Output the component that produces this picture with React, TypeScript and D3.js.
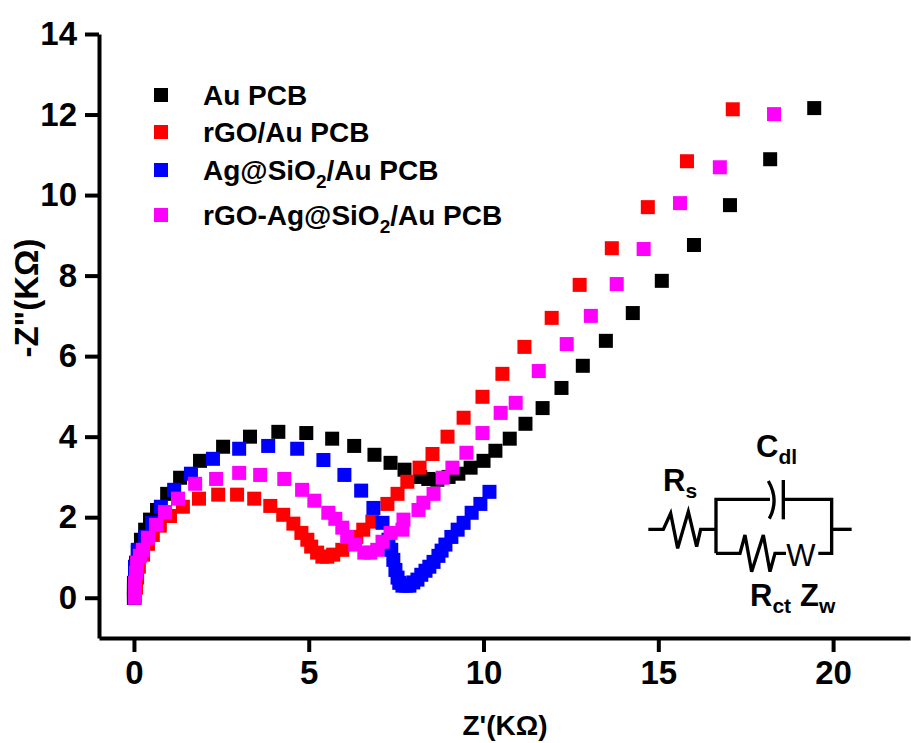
import React from 'react'
import * as d3 from 'd3'

const svgWidth = 911
const svgHeight = 743

const xTicks = [0, 5, 10, 15, 20]
const yTicks = [0, 2, 4, 6, 8, 10, 12, 14]

const auPcb = [
  [0, 0], [0, 0.07], [0, 0.2], [0, 0.37], [0.03, 0.62], [0.06, 0.87], [0.11, 1.14], [0.2, 1.44],
  [0.32, 1.69], [0.46, 1.94], [0.66, 2.18], [0.95, 2.58], [1.32, 2.98], [1.89, 3.4], [2.55, 3.75],
  [3.32, 4.0], [4.13, 4.12], [4.93, 4.09], [5.67, 3.95], [6.3, 3.77], [6.88, 3.55], [7.34, 3.35],
  [7.74, 3.18], [8.19, 3.0], [8.42, 2.95], [8.68, 2.93], [9.0, 3.0], [9.28, 3.08], [9.63, 3.23],
  [10.0, 3.4], [10.34, 3.65], [10.75, 3.95], [11.2, 4.32], [11.69, 4.71], [12.23, 5.21], [12.84, 5.76],
  [13.5, 6.38], [14.27, 7.07], [15.1, 7.87], [16.02, 8.76], [17.05, 9.75], [18.2, 10.89], [19.46, 12.16],
]

const rgoAuPcb = [
  [0, 0], [0.03, 0.1], [0.06, 0.25], [0.09, 0.5], [0.14, 0.77], [0.26, 1.07], [0.4, 1.34], [0.54, 1.56],
  [0.74, 1.79], [1.03, 2.03], [1.4, 2.26], [1.86, 2.46], [2.41, 2.56], [2.95, 2.56], [3.44, 2.46],
  [3.9, 2.28], [4.27, 2.06], [4.56, 1.84], [4.79, 1.61], [4.96, 1.44], [5.07, 1.27], [5.24, 1.12],
  [5.39, 1.02], [5.53, 1.02], [5.7, 1.07], [5.96, 1.19], [6.19, 1.34], [6.36, 1.51], [6.56, 1.69],
  [6.82, 1.89], [7.25, 2.33], [7.54, 2.58], [7.82, 2.88], [8.17, 3.23], [8.54, 3.57], [8.97, 4.0],
  [9.43, 4.47], [9.97, 4.99], [10.54, 5.56], [11.17, 6.23], [11.95, 6.95], [12.75, 7.77], [13.67, 8.68],
  [14.7, 9.7], [15.82, 10.84], [17.13, 12.13],
]

const agSiO2AuPcb = [
  [0, 0], [0, 0.2], [0.03, 0.57], [0.03, 0.77], [0.11, 1.19], [0.32, 1.51], [0.52, 1.86], [0.77, 2.26],
  [1.15, 2.68], [1.63, 3.08], [2.26, 3.45], [3.01, 3.7], [3.84, 3.77], [4.67, 3.7], [5.42, 3.42],
  [6.02, 3.05], [6.5, 2.66], [6.85, 2.23], [7.11, 1.86], [7.28, 1.44], [7.36, 1.19], [7.42, 0.94],
  [7.48, 0.69], [7.54, 0.5], [7.59, 0.37], [7.68, 0.3], [7.79, 0.3], [7.88, 0.3], [7.99, 0.38],
  [8.11, 0.45], [8.22, 0.57], [8.34, 0.67], [8.45, 0.77], [8.57, 0.89], [8.71, 1.04], [8.8, 1.17],
  [8.91, 1.32], [9.08, 1.51], [9.26, 1.69], [9.43, 1.86], [9.66, 2.11], [9.91, 2.33], [10.17, 2.63],
]

const rgoAgSiO2AuPcb = [
  [0.03, 0], [0.03, 0.2], [0.03, 0.37], [0.06, 0.62], [0.09, 0.87], [0.17, 1.04], [0.26, 1.19], [0.4, 1.49],
  [0.63, 1.81], [0.89, 2.13], [1.26, 2.46], [1.75, 2.83], [2.35, 2.95], [3.01, 3.1], [3.61, 3.05],
  [4.3, 2.95], [4.81, 2.68], [5.16, 2.41], [5.56, 2.11], [5.76, 1.96], [5.96, 1.74], [6.1, 1.51],
  [6.33, 1.32], [6.59, 1.12], [6.76, 1.12], [6.96, 1.19], [7.11, 1.39], [7.34, 1.61], [7.68, 1.69],
  [7.71, 1.94], [8.14, 2.18], [8.28, 2.36], [8.57, 2.58], [8.83, 2.98], [9.11, 3.23], [9.51, 3.6],
  [9.97, 4.09], [10.49, 4.59], [10.92, 4.84], [11.58, 5.63], [12.38, 6.3], [13.07, 7.0], [13.81, 7.79],
  [14.58, 8.66], [15.62, 9.8], [16.76, 10.69], [18.31, 12.01],
]

const seriesList = [
  { name: ['Au PCB'], color: '#000000', points: auPcb, legendY: 95 },
  { name: ['rGO/Au PCB'], color: '#ff0000', points: rgoAuPcb, legendY: 132 },
  { name: ['Ag@SiO', '2', '/Au PCB'], color: '#0000ff', points: agSiO2AuPcb, legendY: 170 },
  { name: ['rGO-Ag@SiO', '2', '/Au PCB'], color: '#ff00ff', points: rgoAgSiO2AuPcb, legendY: 215 },
]

const FONT = '"Liberation Sans", Arial, sans-serif'

// circuit outline, in crop coords of the inset (3x)
const circuitPaths = [
  'M55 298H100L122 250L143 355L175 245L200 350L212 298H258',
  'M258 370V208H420',
  'M465 208H605V370H565',
  'M258 370H330L345 315L365 425L400 315L420 425L435 370H468',
  'M605 298H665',
  'M415 153Q448 210 418 266',
  'M460 150V268',
]

const App = () => {
  const svgRef = React.useRef<SVGSVGElement>(null)

  React.useEffect(() => {
    const svg = d3.select(svgRef.current)
    svg.selectAll('*').remove()

    const x = d3.scaleLinear().domain([-1, 22.2]).range([99, 910])
    const y = d3.scaleLinear().domain([-1, 14]).range([638, 34])

    const xAxis = svg.append('g')
      .attr('transform', 'translate(0,638)')
      .call(d3.axisBottom(x).tickValues(xTicks).tickSizeInner(14).tickSizeOuter(0).tickPadding(9))
    const yAxis = svg.append('g')
      .attr('transform', 'translate(99,0)')
      .call(d3.axisLeft(y).tickValues(yTicks).tickSizeInner(14).tickSizeOuter(0).tickPadding(8))

    ;[xAxis, yAxis].forEach((axis) => {
      axis.select('.domain').attr('stroke', '#000').attr('stroke-width', 4)
      axis.selectAll('.tick line').attr('stroke', '#000').attr('stroke-width', 4)
      axis.selectAll('.tick text')
        .attr('fill', '#000')
        .attr('font-family', FONT)
        .attr('font-weight', 'bold')
        .attr('font-size', 33)
    })

    svg.append('text')
      .attr('x', 505)
      .attr('y', 735)
      .attr('text-anchor', 'middle')
      .attr('font-family', FONT)
      .attr('font-weight', 'bold')
      .attr('font-size', 28)
      .text("Z'(KΩ)")

    svg.append('text')
      .attr('transform', 'translate(38,298) rotate(-90)')
      .attr('text-anchor', 'middle')
      .attr('font-family', FONT)
      .attr('font-weight', 'bold')
      .attr('font-size', 33)
      .text('-Z"(KΩ)')

    const size = 14
    seriesList.forEach((s) => {
      svg.append('g')
        .attr('fill', s.color)
        .selectAll('rect')
        .data(s.points)
        .join('rect')
        .attr('x', (d) => x(d[0]) - size / 2)
        .attr('y', (d) => y(d[1]) - size / 2)
        .attr('width', size)
        .attr('height', size)

      svg.append('rect')
        .attr('x', 161 - size / 2)
        .attr('y', s.legendY - size / 2)
        .attr('width', size)
        .attr('height', size)
        .attr('fill', s.color)

      const label = svg.append('text')
        .attr('x', 203)
        .attr('y', s.legendY + 10)
        .attr('font-family', FONT)
        .attr('font-weight', 'bold')
        .attr('font-size', 28)
      s.name.forEach((part, i) => {
        const isSub = s.name.length > 1 && i === 1
        label.append('tspan')
          .attr('font-size', isSub ? 19 : 28)
          .attr('dy', isSub ? 8 : (i === 2 ? -8 : 0))
          .text(part)
      })
    })

    // equivalent circuit inset
    const inset = svg.append('g').attr('transform', 'translate(630,430) scale(0.3333)')
    inset.selectAll('path')
      .data(circuitPaths)
      .join('path')
      .attr('d', (d) => d)
      .attr('fill', 'none')
      .attr('stroke', '#000')
      .attr('stroke-width', 10)
      .attr('stroke-linejoin', 'miter')

    const insetText = (px: number, py: number, main: string, sub?: string) => {
      const t = svg.append('text')
        .attr('x', px)
        .attr('y', py)
        .attr('font-family', FONT)
        .attr('font-weight', 'bold')
        .attr('font-size', 31)
      t.append('tspan').text(main)
      if (sub) t.append('tspan').attr('font-size', 21).attr('dy', 7).text(sub)
    }
    insetText(663, 491, 'R', 's')
    insetText(756, 457, 'C', 'dl')
    insetText(750, 606, 'R', 'ct')
    insetText(800, 606, 'Z', 'w')

    svg.append('text')
      .attr('x', 801)
      .attr('y', 566)
      .attr('text-anchor', 'middle')
      .attr('font-family', FONT)
      .attr('font-size', 31)
      .text('W')
  }, [])

  return (
    <svg
      ref={svgRef}
      width={svgWidth}
      height={svgHeight}
      style={{ position: 'absolute', left: 0, top: 0, background: '#fff' }}
    />
  )
}

export default App
